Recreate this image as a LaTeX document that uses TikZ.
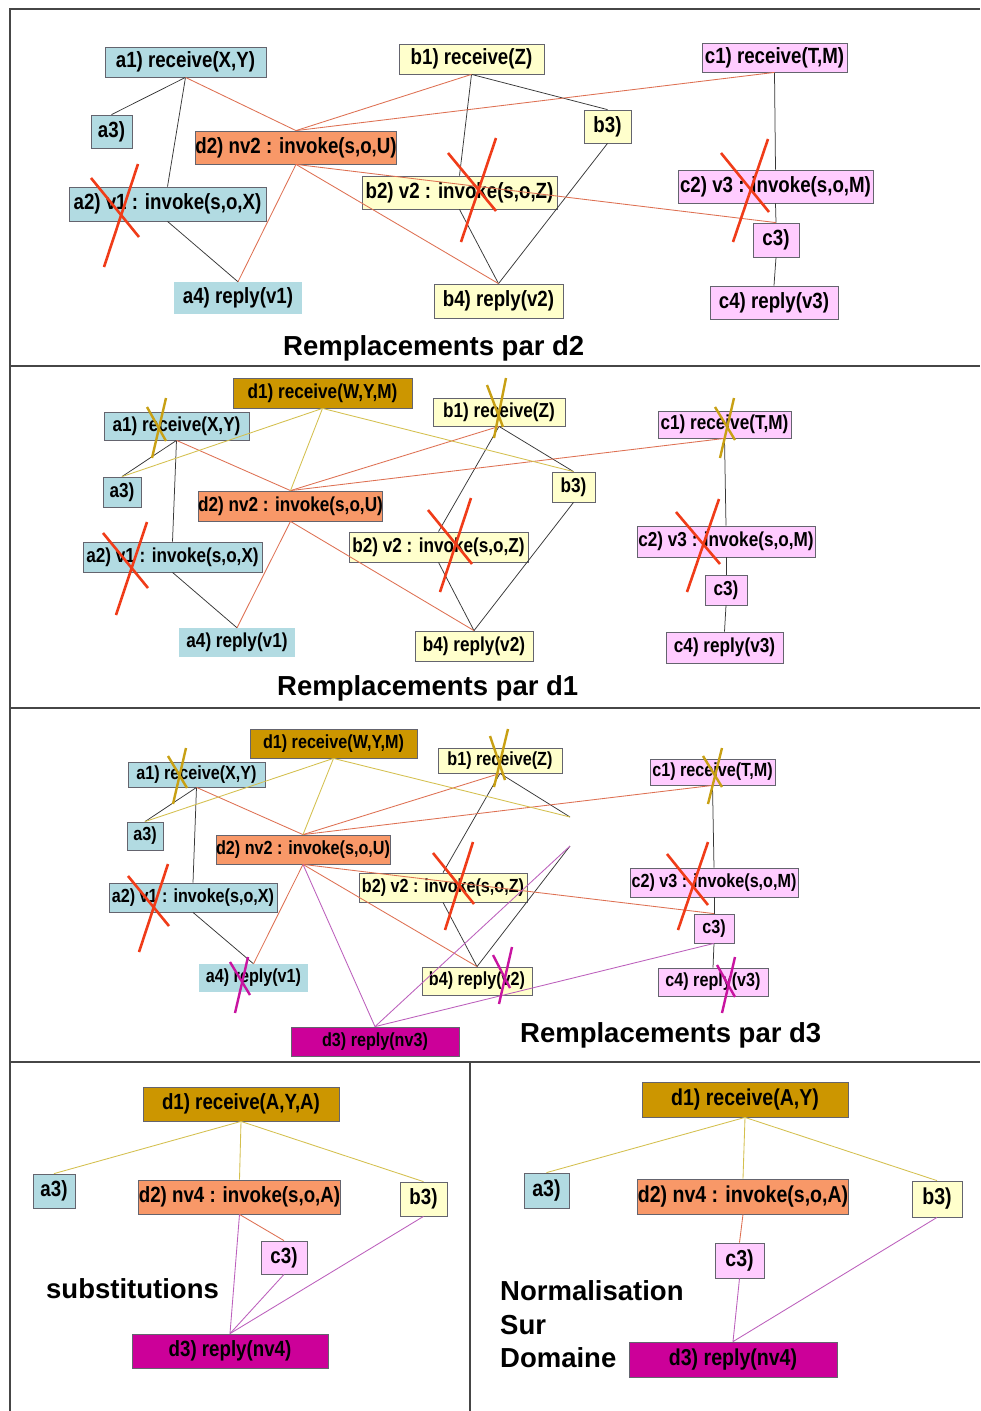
\documentclass[tikz,border=0pt]{standalone}
\usepackage{fontspec}
\setmainfont{Liberation Sans}
\newfontfamily\labf{Liberation Sans}[FakeStretch=0.85]
\definecolor{cblue}{RGB}{178,219,226}
\definecolor{cyel}{RGB}{255,255,204}
\definecolor{cpink}{RGB}{255,204,255}
\definecolor{corg}{RGB}{248,152,104}
\definecolor{cgold}{RGB}{204,150,0}
\definecolor{cmag}{RGB}{204,0,153}
\definecolor{eblk}{RGB}{55,55,55}
\definecolor{eorg}{RGB}{222,112,82}
\definecolor{egold}{RGB}{212,192,78}
\definecolor{epur}{RGB}{188,95,188}
\definecolor{xred}{RGB}{240,60,25}
\definecolor{xgold}{RGB}{200,160,20}
\definecolor{xmag}{RGB}{200,20,160}
\definecolor{bline}{RGB}{100,100,110}
\definecolor{frc}{RGB}{70,70,70}
\tikzset{
  bx/.style={draw=bline, line width=0.8pt, inner sep=0pt},
  blu/.style={bx, fill=cblue},
  blunb/.style={inner sep=0pt, fill=cblue},
  yel/.style={bx, fill=cyel},
  pnk/.style={bx, fill=cpink},
  org/.style={bx, fill=corg},
  gld/.style={bx, fill=cgold},
  mag/.style={bx, fill=cmag},
  fa/.style={font=\labf\bfseries\fontsize{22}{23}\selectfont},
  fb/.style={font=\labf\bfseries\fontsize{20.2}{21}\selectfont},
  fc/.style={font=\labf\bfseries\fontsize{19}{20}\selectfont},
  fd/.style={font=\labf\bfseries\fontsize{23}{24}\selectfont},
  ttl/.style={font=\bfseries\fontsize{27.5}{30}\selectfont, inner sep=0pt, anchor=base west},
  ke/.style={draw=eblk, line width=0.75pt},
  oe/.style={draw=eorg, line width=0.85pt},
  ge/.style={draw=egold, line width=0.85pt},
  pe/.style={draw=epur, line width=0.85pt},
  xr/.style={draw=xred, line width=2.6pt},
  xg/.style={draw=xgold, line width=2.4pt},
  xm/.style={draw=xmag, line width=2.4pt},
  frame/.style={draw=frc, line width=1.8pt}
}
\begin{document}
\begin{tikzpicture}[x=1pt,y=-1pt]
\useasboundingbox (0,0) rectangle (980,1411);
\fill[white] (0,0) rectangle (980,1411);
% frame
\draw[frame] (10,1411) -- (10,9) -- (980,9);
\draw[frame] (10,366) -- (980,366);
\draw[frame] (10,708) -- (980,708);
\draw[frame] (10,1062) -- (980,1062);
\draw[frame] (470,1062) -- (470,1411);

% ================= Panel 1 =================
\node[blu,fa,minimum width=161pt,minimum height=30pt] (p1a1) at (185.5,62) {a1) receive(X,Y)};
\node[blu,fa,minimum width=41pt,minimum height=33pt] (p1a3) at (111.5,131.5) {a3)};
\node[org,fa,minimum width=196pt,minimum height=33pt] (p1d2) at (296,147.5) {d2) nv2 : invoke(s,o,U)};
\node[blu,fa,minimum width=197pt,minimum height=34pt] (p1a2) at (167.5,204) {a2) v1 : invoke(s,o,X)};
\node[blunb,fa,minimum width=128pt,minimum height=32pt] (p1a4) at (238,298) {a4) reply(v1)};
\node[yel,fa,minimum width=145pt,minimum height=30pt] (p1b1) at (471.5,59) {b1) receive(Z)};
\node[yel,fa,minimum width=195pt,minimum height=33pt] (p1b2) at (459.5,192.5) {b2) v2 : invoke(s,o,Z)};
\node[yel,fa,minimum width=47pt,minimum height=33pt] (p1b3) at (607.5,126.5) {b3)};
\node[yel,fa,minimum width=129pt,minimum height=34pt] (p1b4) at (498.5,301) {b4) reply(v2)};
\node[pnk,fa,minimum width=145pt,minimum height=29pt] (p1c1) at (774.5,57.5) {c1) receive(T,M)};
\node[pnk,fa,minimum width=195pt,minimum height=33pt] (p1c2) at (775.5,186.5) {c2) v3 : invoke(s,o,M)};
\node[pnk,fa,minimum width=46pt,minimum height=34pt] (p1c3) at (776,240) {c3)};
\node[pnk,fa,minimum width=128pt,minimum height=33pt] (p1c4) at (774,302.5) {c4) reply(v3)};
\node[ttl] (t1) at (283,355) {Remplacements par d2};

\draw[ke] (p1a1.south) -- (p1a3.north);
\draw[ke] (p1a1.south) -- (p1a2.north);
\draw[ke] (p1a2.south) -- (p1a4.north);
\draw[ke] (p1b1.south) -- (p1b2.north);
\draw[ke] (p1b1.south) -- (p1b3.north);
\draw[ke] (p1b2.south) -- (p1b4.north);
\draw[ke] (p1b3.south) -- (p1b4.north);
\draw[ke] (p1c1.south) -- (p1c2.north);
\draw[ke] (p1c2.south) -- (p1c3.north);
\draw[ke] (p1c3.south) -- (p1c4.north);
\draw[oe] (p1a1.south) -- (p1d2.north);
\draw[oe] (p1d2.north) -- (p1b1.south);
\draw[oe] (p1d2.north) -- (p1c1.south);
\draw[oe] (p1d2.south) -- (p1a4.north);
\draw[oe] (p1d2.south) -- (p1b4.north);
\draw[oe] (p1d2.south) -- (p1c3.north);

\draw[xr] (91,178) -- (139,237);  \draw[xr] (138,164) -- (104,267);
\draw[xr] (448,153) -- (496,211); \draw[xr] (496,138) -- (461,242);
\draw[xr] (721,153) -- (769,212); \draw[xr] (768,139) -- (733,242);

% ================= Panel 2 =================
\node[gld,fb,minimum width=179pt,minimum height=30pt] (p2d1) at (322.5,393) {d1) receive(W,Y,M)};
\node[blu,fb,minimum width=145pt,minimum height=28pt] (p2a1) at (176.5,426) {a1) receive(X,Y)};
\node[blu,fb,minimum width=38pt,minimum height=30pt] (p2a3) at (122,492) {a3)};
\node[org,fb,minimum width=179pt,minimum height=30pt] (p2d2) at (290.5,506) {d2) nv2 : invoke(s,o,U)};
\node[blu,fb,minimum width=179pt,minimum height=30pt] (p2a2) at (172.5,557) {a2) v1 : invoke(s,o,X)};
\node[blunb,fb,minimum width=116pt,minimum height=29pt] (p2a4) at (237,642.5) {a4) reply(v1)};
\node[yel,fb,minimum width=132pt,minimum height=28pt] (p2b1) at (499,412) {b1) receive(Z)};
\node[yel,fb,minimum width=179pt,minimum height=30pt] (p2b2) at (438.5,547) {b2) v2 : invoke(s,o,Z)};
\node[yel,fb,minimum width=43pt,minimum height=30pt] (p2b3) at (573.5,487) {b3)};
\node[yel,fb,minimum width=118pt,minimum height=30pt] (p2b4) at (474,646) {b4) reply(v2)};
\node[pnk,fb,minimum width=133pt,minimum height=27pt] (p2c1) at (724.5,424.5) {c1) receive(T,M)};
\node[pnk,fb,minimum width=178pt,minimum height=31pt] (p2c2) at (726,541.5) {c2) v3 : invoke(s,o,M)};
\node[pnk,fb,minimum width=42pt,minimum height=30pt] (p2c3) at (726,590) {c3)};
\node[pnk,fb,minimum width=117pt,minimum height=31pt] (p2c4) at (724.5,647.5) {c4) reply(v3)};
\node[ttl] (t2) at (277,695) {Remplacements par d1};

\draw[ke] (p2a1.south) -- (p2a3.north);
\draw[ke] (p2a1.south) -- (p2a2.north);
\draw[ke] (p2a2.south) -- (p2a4.north);
\draw[ke] (p2b1.south) -- (p2b2.north);
\draw[ke] (p2b1.south) -- (p2b3.north);
\draw[ke] (p2b2.south) -- (p2b4.north);
\draw[ke] (p2b3.south) -- (p2b4.north);
\draw[ke] (p2c1.south) -- (p2c2.north);
\draw[ke] (p2c2.south) -- (p2c3.north);
\draw[ke] (p2c3.south) -- (p2c4.north);
\draw[oe] (p2a1.south) -- (p2d2.north);
\draw[oe] (p2d2.north) -- (p2b1.south);
\draw[oe] (p2d2.north) -- (p2c1.south);
\draw[oe] (p2d2.south) -- (p2a4.north);
\draw[oe] (p2d2.south) -- (p2b4.north);
\draw[ge] (p2d1.south) -- (p2a3.north);
\draw[ge] (p2d1.south) -- (p2d2.north);
\draw[ge] (p2d1.south) -- (p2b3.north);

\draw[xr] (103,533) -- (148,588); \draw[xr] (147,522) -- (116,615);
\draw[xr] (428,510) -- (472,564); \draw[xr] (471,498) -- (440,592);
\draw[xr] (676,512) -- (720,564); \draw[xr] (719,499) -- (687,592);
\draw[xg] (147,407) -- (166,441); \draw[xg] (166,398) -- (152,458);
\draw[xg] (487,385) -- (503,427); \draw[xg] (506,378) -- (494,438);
\draw[xg] (715,407) -- (735,440); \draw[xg] (734,398) -- (720,458);

% ================= Panel 3 =================
\node[gld,fc,minimum width=167pt,minimum height=29pt] (p3d1) at (333.5,743.5) {d1) receive(W,Y,M)};
\node[blu,fc,minimum width=137pt,minimum height=25pt] (p3a1) at (196.5,774.5) {a1) receive(X,Y)};
\node[blu,fc,minimum width=36pt,minimum height=28pt] (p3a3) at (145,836) {a3)};
\node[org,fc,minimum width=168pt,minimum height=29pt] (p3d2) at (303,849.5) {d2) nv2 : invoke(s,o,U)};
\node[blu,fc,minimum width=168pt,minimum height=29pt] (p3a2) at (193,897.5) {a2) v1 : invoke(s,o,X)};
\node[blunb,fc,minimum width=109pt,minimum height=28pt] (p3a4) at (253.5,978) {a4) reply(v1)};
\node[yel,fc,minimum width=124pt,minimum height=25pt] (p3b1) at (500,760.5) {b1) receive(Z)};
\node[yel,fc,minimum width=168pt,minimum height=29pt] (p3b2) at (443,887.5) {b2) v2 : invoke(s,o,Z)};
\node[yel,fc,minimum width=110pt,minimum height=28pt] (p3b4) at (477,981) {b4) reply(v2)};
\node[pnk,fc,minimum width=125pt,minimum height=26pt] (p3c1) at (712.5,772) {c1) receive(T,M)};
\node[pnk,fc,minimum width=168pt,minimum height=29pt] (p3c2) at (714,882.5) {c2) v3 : invoke(s,o,M)};
\node[pnk,fc,minimum width=40pt,minimum height=29pt] (p3c3) at (714,928.5) {c3)};
\node[pnk,fc,minimum width=110pt,minimum height=28pt] (p3c4) at (713,982) {c4) reply(v3)};
\node[mag,fc,minimum width=168pt,minimum height=29pt] (p3d3) at (375,1041.5) {d3) reply(nv3)};
\coordinate (p3b3t) at (570,817);
\coordinate (p3b3b) at (570,846);
\node[ttl] (t3) at (520,1042) {Remplacements par d3};

\draw[ke] (p3a1.south) -- (p3a3.north);
\draw[ke] (p3a1.south) -- (p3a2.north);
\draw[ke] (p3a2.south) -- (p3a4.north);
\draw[ke] (p3b1.south) -- (p3b2.north);
\draw[ke] (p3b1.south) -- (p3b3t);
\draw[ke] (p3b2.south) -- (p3b4.north);
\draw[ke] (p3b3b) -- (p3b4.north);
\draw[ke] (p3c1.south) -- (p3c2.north);
\draw[ke] (p3c2.south) -- (p3c3.north);
\draw[ke] (p3c3.south) -- (p3c4.north);
\draw[oe] (p3a1.south) -- (p3d2.north);
\draw[oe] (p3d2.north) -- (p3b1.south);
\draw[oe] (p3d2.north) -- (p3c1.south);
\draw[oe] (p3d2.south) -- (p3a4.north);
\draw[oe] (p3d2.south) -- (p3b4.north);
\draw[oe] (p3d2.south) -- (p3c3.north);
\draw[ge] (p3d1.south) -- (p3a3.north);
\draw[ge] (p3d1.south) -- (p3d2.north);
\draw[ge] (p3d1.south) -- (p3b3t);
\draw[pe] (p3d2.south) -- (p3d3.north);
\draw[pe] (p3d3.north) -- (p3b3b);
\draw[pe] (p3d3.north) -- (p3c3.south);

\draw[xr] (128,876) -- (169,926); \draw[xr] (168,864) -- (139,952);
\draw[xr] (433,853) -- (474,904); \draw[xr] (473,842) -- (445,930);
\draw[xr] (667,854) -- (708,905); \draw[xr] (708,842) -- (678,930);
\draw[xg] (168,756) -- (187,788); \draw[xg] (186,748) -- (173,804);
\draw[xg] (490,736) -- (505,780); \draw[xg] (508,729) -- (494,787);
\draw[xg] (703,756) -- (722,787); \draw[xg] (722,748) -- (708,804);
\draw[xm] (230,962) -- (250,995); \draw[xm] (248,957) -- (235,1013);
\draw[xm] (493,955) -- (510,988); \draw[xm] (512,947) -- (499,1004);
\draw[xm] (717,965) -- (735,997); \draw[xm] (735,957) -- (722,1013);

% ================= Panel 4 left =================
\node[gld,fa,minimum width=196pt,minimum height=34pt] (p4d1) at (241,1104) {d1) receive(A,Y,A)};
\node[blu,fa,minimum width=42pt,minimum height=34pt] (p4a3) at (54,1191) {a3)};
\node[org,fa,minimum width=195pt,minimum height=34pt] (p4d2) at (239.5,1197) {d2) nv4 : invoke(s,o,A)};
\node[yel,fa,minimum width=47pt,minimum height=34pt] (p4b3) at (423.5,1199) {b3)};
\node[pnk,fa,minimum width=46pt,minimum height=33pt] (p4c3) at (284,1257.5) {c3)};
\node[mag,fa,minimum width=196pt,minimum height=34pt] (p4d3) at (230,1351) {d3) reply(nv4)};
\node[ttl] (t4) at (46,1298) {substitutions};

\draw[ge] (p4d1.south) -- (p4a3.north);
\draw[ge] (p4d1.south) -- (p4d2.north);
\draw[ge] (p4d1.south) -- (p4b3.north);
\draw[oe] (p4d2.south) -- (p4c3.north);
\draw[pe] (p4d2.south) -- (p4d3.north);
\draw[pe] (p4c3.south) -- (p4d3.north);
\draw[pe] (p4b3.south) -- (p4d3.north);

% ================= Panel 4 right =================
\node[gld,fd,minimum width=206pt,minimum height=35pt] (p5d1) at (745,1099.5) {d1) receive(A,Y)};
\node[blu,fd,minimum width=45pt,minimum height=35pt] (p5a3) at (546.5,1190.5) {a3)};
\node[org,fd,minimum width=208pt,minimum height=35pt] (p5d2) at (743,1196.5) {d2) nv4 : invoke(s,o,A)};
\node[yel,fd,minimum width=50pt,minimum height=36pt] (p5b3) at (937,1199) {b3)};
\node[pnk,fd,minimum width=49pt,minimum height=35pt] (p5c3) at (739.5,1260.5) {c3)};
\node[mag,fd,minimum width=208pt,minimum height=35pt] (p5d3) at (733,1359.5) {d3) reply(nv4)};
\node[ttl] (t5a) at (500,1300) {Normalisation};
\node[ttl] (t5b) at (500,1334) {Sur};
\node[ttl] (t5c) at (500,1367) {Domaine};

\draw[ge] (p5d1.south) -- (p5a3.north);
\draw[ge] (p5d1.south) -- (p5d2.north);
\draw[ge] (p5d1.south) -- (p5b3.north);
\draw[oe] (p5d2.south) -- (p5c3.north);
\draw[pe] (p5c3.south) -- (p5d3.north);
\draw[pe] (p5b3.south) -- (p5d3.north);
\end{tikzpicture}
\end{document}
